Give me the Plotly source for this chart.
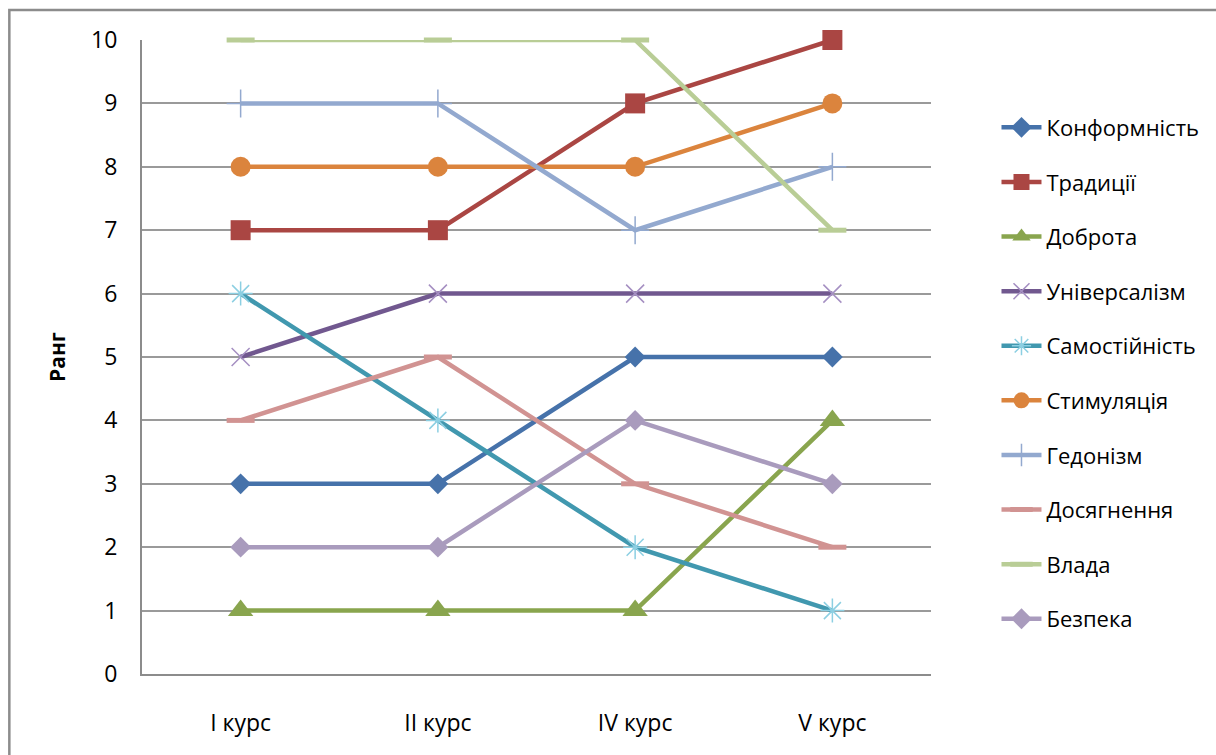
import plotly.graph_objects as go

# Курси навчання (категорії осі X)
courses = ["I курс", "II курс", "IV курс", "V курс"]

# Ранги цінностей за курсами
konformnist = [3, 3, 5, 5]
tradytsii = [7, 7, 9, 10]
dobrota = [1, 1, 1, 4]
universalizm = [5, 6, 6, 6]
samostiinist = [6, 4, 2, 1]
stymuliatsiia = [8, 8, 8, 9]
hedonizm = [9, 9, 7, 8]
dosiahnennia = [4, 5, 3, 2]
vlada = [10, 10, 10, 7]
bezpeka = [2, 2, 4, 3]

y_ticks = list(range(0, 11))

FONT = "Open Sans"

series = [
    ("Конформність", konformnist, "#4672AA", dict(symbol="diamond", size=16, color="#4672AA")),
    ("Традиції", tradytsii, "#AA4643", dict(symbol="square", size=20, color="#AA4643")),
    ("Доброта", dobrota, "#89A54E", dict(symbol="triangle-up", size=22, color="#89A54E")),
    ("Універсалізм", universalizm, "#71588F",
     dict(symbol="x-thin-open", size=18, color="#A58FC2", line=dict(width=1.5, color="#A58FC2"))),
    ("Самостійність", samostiinist, "#4198AF",
     dict(symbol="asterisk-open", size=20, color="#8CCFE2", line=dict(width=1.5, color="#8CCFE2"))),
    ("Стимуляція", stymuliatsiia, "#DB843D", dict(symbol="circle", size=20, color="#DB843D")),
    ("Гедонізм", hedonizm, "#93A9CF",
     dict(symbol="cross-thin-open", size=20, color="#93A9CF", line=dict(width=1.5, color="#93A9CF"))),
    ("Досягнення", dosiahnennia, "#D19392",
     dict(symbol="line-ew-open", size=20, color="#D19392", line=dict(width=5, color="#D19392"))),
    ("Влада", vlada, "#B9CD96",
     dict(symbol="line-ew-open", size=20, color="#B9CD96", line=dict(width=5, color="#B9CD96"))),
    ("Безпека", bezpeka, "#A99BBD", dict(symbol="diamond", size=16, color="#A99BBD")),
]

fig = go.Figure()
for i, (name, vals, color, marker) in enumerate(series):
    fig.add_trace(go.Scatter(
        x=courses, y=vals, name=name, mode="lines+markers",
        line=dict(color=color, width=4.5),
        marker=marker,
        legendgroup=f"g{i}",
        cliponaxis=False,
    ))

fig.update_layout(
    width=1216, height=755,
    margin=dict(l=142, r=283, t=40, b=81),
    paper_bgcolor="white", plot_bgcolor="white",
    font=dict(family=FONT, size=23, color="#000000"),
    showlegend=True,
    legend=dict(
        x=1.083, y=0.895, xanchor="left", yanchor="top",
        font=dict(family=FONT, size=22, color="#000000"),
        tracegroupgap=23,
        bgcolor="rgba(0,0,0,0)",
        itemwidth=40,
    ),
    xaxis=dict(
        type="category", range=[-0.5, 3.5],
        showgrid=False, showline=True, linecolor="#8C8C8C", linewidth=2,
        ticks="outside", ticklen=27, tickcolor="rgba(0,0,0,0)",
        tickfont=dict(family=FONT, size=23),
        zeroline=False,
    ),
    yaxis=dict(
        range=[0, 10], tickvals=y_ticks,
        showgrid=True, gridcolor="#9A9A9A", gridwidth=1.5,
        showline=True, linecolor="#8C8C8C", linewidth=2,
        ticks="outside", ticklen=18, tickcolor="rgba(0,0,0,0)",
        tickfont=dict(family=FONT, size=23),
        zeroline=False,
        title=dict(text="<b>Ранг</b>", font=dict(family=FONT, size=21), standoff=20),
    ),
    shapes=[
        # рамка області діаграми
        dict(type="rect", xref="paper", yref="paper",
             x0=(9 - 142) / 791, x1=(1230 - 142) / 791,
             y0=(674 - 770) / 634, y1=(674 - 10) / 634,
             line=dict(color="#8C8C8C", width=2.5), fillcolor="rgba(0,0,0,0)", layer="below"),
    ],
)

fig.write_html("out.html")
